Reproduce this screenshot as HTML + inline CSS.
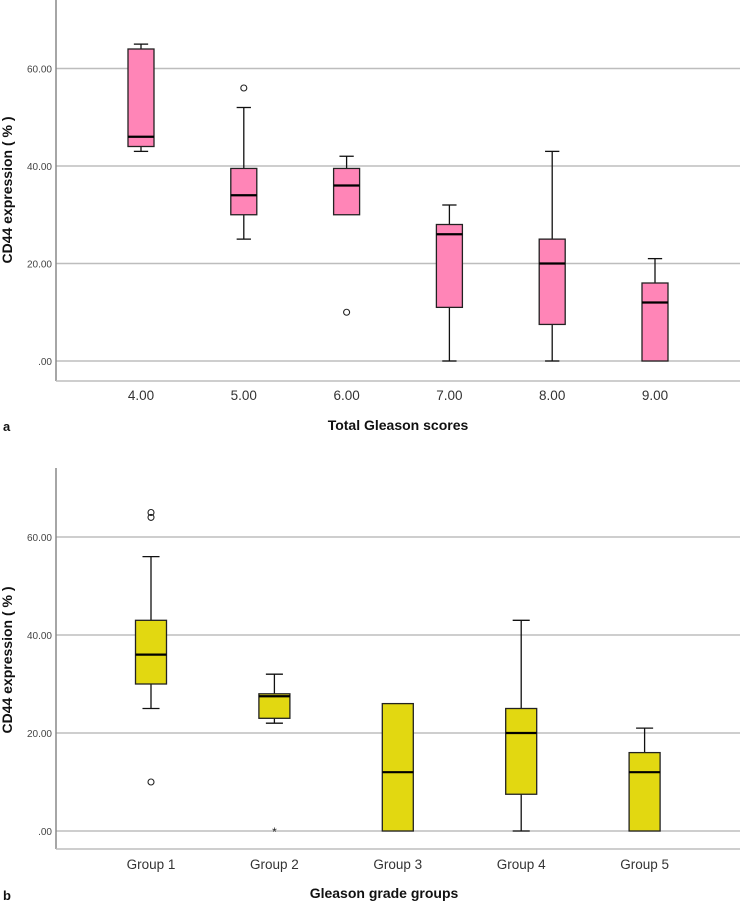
<!DOCTYPE html>
<html><head><meta charset="utf-8"><style>
body{margin:0;background:#fff}
svg{display:block;font-family:"Liberation Sans",Arial,sans-serif}
</style></head><body>
<svg id="chart" width="741" height="902" viewBox="0 0 741 902"></svg>
<script>
const NS='http://www.w3.org/2000/svg';
const svg=document.getElementById('chart');
// Panel a data
const catsA=['4.00','5.00','6.00','7.00','8.00','9.00'];
const minA=[43,25,30,0,0,0];
const q1A=[44,30,30,11,7.5,0];
const medA=[46,34,36,26,20,12];
const q3A=[64,39.5,39.5,28,25,16];
const maxA=[65,52,42,32,43,21];
const outA=[[],[56],[10],[],[],[]];
const starA=[[],[],[],[],[],[]];
// Panel b data
const catsB=['Group 1','Group 2','Group 3','Group 4','Group 5'];
const minB=[25,22,0,0,0];
const q1B=[30,23,0,7.5,0];
const medB=[36,27.5,12,20,12];
const q3B=[43,28,26,25,16];
const maxB=[56,32,26,43,21];
const outB=[[10,64,65],[],[],[],[]];
const starB=[[],[0],[],[],[]];
const ticks=[0,20,40,60];
const tickLabels=['.00','20.00','40.00','60.00'];

function el(tag,attrs,parent){const e=document.createElementNS(NS,tag);for(const k in attrs)e.setAttribute(k,attrs[k]);(parent||svg).appendChild(e);return e;}

function panel(cfg){
  const g=el('g',{});
  
  
  const y=v=>cfg.y0-(v/20)*cfg.step;
  const x=i=>cfg.x0+i*cfg.dx;
  ticks.forEach((t,i)=>{
    const l=el('line',{x1:cfg.axX,x2:740,y1:y(t),y2:y(t),stroke:'#bdbdbd','stroke-width':1.5},g);
    
    
    const tx=el('text',{x:cfg.axX-4,y:y(t)+4,'text-anchor':'end','font-size':10,fill:'#444'},g);
    tx.textContent=tickLabels[i];
    
    
  });
  const ya=el('line',{x1:cfg.axX,x2:cfg.axX,y1:cfg.top,y2:cfg.bot,stroke:'#888','stroke-width':1.5},g);
  
  
  const xa=el('line',{x1:cfg.axX,x2:740,y1:cfg.bot,y2:cfg.bot,stroke:'#bdbdbd','stroke-width':1.5},g);
  
  
  const d=cfg.d;
  d.cats.forEach((c,i)=>{
    const cx=x(i),w=cfg.bw;
    const bg=el('g',{},g);
    
    
    const wh=w*0.55;
    if(d.max[i]>d.q3[i]){
      el('line',{x1:cx,x2:cx,y1:y(d.q3[i]),y2:y(d.max[i]),stroke:'#111','stroke-width':1.3},bg);
      el('line',{x1:cx-wh/2,x2:cx+wh/2,y1:y(d.max[i]),y2:y(d.max[i]),stroke:'#111','stroke-width':1.3},bg);
    }
    if(d.min[i]<d.q1[i]){
      el('line',{x1:cx,x2:cx,y1:y(d.q1[i]),y2:y(d.min[i]),stroke:'#111','stroke-width':1.3},bg);
      el('line',{x1:cx-wh/2,x2:cx+wh/2,y1:y(d.min[i]),y2:y(d.min[i]),stroke:'#111','stroke-width':1.3},bg);
    }
    el('rect',{x:cx-w/2,y:y(d.q3[i]),width:w,height:y(d.q1[i])-y(d.q3[i]),fill:cfg.fill,stroke:'#222','stroke-width':1.3},bg);
    el('line',{x1:cx-w/2,x2:cx+w/2,y1:y(d.med[i]),y2:y(d.med[i]),stroke:'#000','stroke-width':2.2},bg);
    d.out[i].forEach(v=>{
      const o=el('circle',{cx:cx,cy:y(v),r:3,fill:'none',stroke:'#222','stroke-width':1.1},bg);
      
      
    });
    d.star[i].forEach(v=>{
      const s=el('text',{x:cx,y:y(v)+5,'text-anchor':'middle','font-size':12,fill:'#222'},bg);
      s.textContent='*';
      
      
    });
    const lt=el('text',{x:cx,y:cfg.tickY,'text-anchor':'middle','font-size':13.5,fill:'#333'},g);
    lt.textContent=c;
    
    
  });
  const xt=el('text',{x:cfg.xtX,y:cfg.xtY,'text-anchor':'middle','font-size':14,'font-weight':'bold',fill:'#111'},g);
  xt.textContent=cfg.xtitle;
  
  
  const yt=el('text',{x:0,y:0,'text-anchor':'middle','font-size':14,'font-weight':'bold',fill:'#111',transform:`translate(12,${cfg.ytY}) rotate(-90)`},g);
  yt.textContent='CD44 expression ( % )';
  
  
  const pl=el('text',{x:3,y:cfg.lblY,'font-size':13,'font-weight':'bold',fill:'#111'},g);
  pl.textContent=cfg.label;
  
  
}
panel({name:'panel-a',axX:56,top:0,bot:381,y0:361,step:97.5,x0:141,dx:102.8,bw:26,fill:'#ff85b7',
  d:{cats:catsA,min:minA,q1:q1A,med:medA,q3:q3A,max:maxA,out:outA,star:starA},
  tickY:400,xtitle:'Total Gleason scores',xtX:398,xtY:430,ytY:190,label:'a',lblY:431});
panel({name:'panel-b',axX:56,top:468,bot:849,y0:831,step:98,x0:151,dx:123.4,bw:31,fill:'#e2d811',
  d:{cats:catsB,min:minB,q1:q1B,med:medB,q3:q3B,max:maxB,out:outB,star:starB},
  tickY:869,xtitle:'Gleason grade groups',xtX:384,xtY:898,ytY:660,label:'b',lblY:900});
</script>
</body></html>
